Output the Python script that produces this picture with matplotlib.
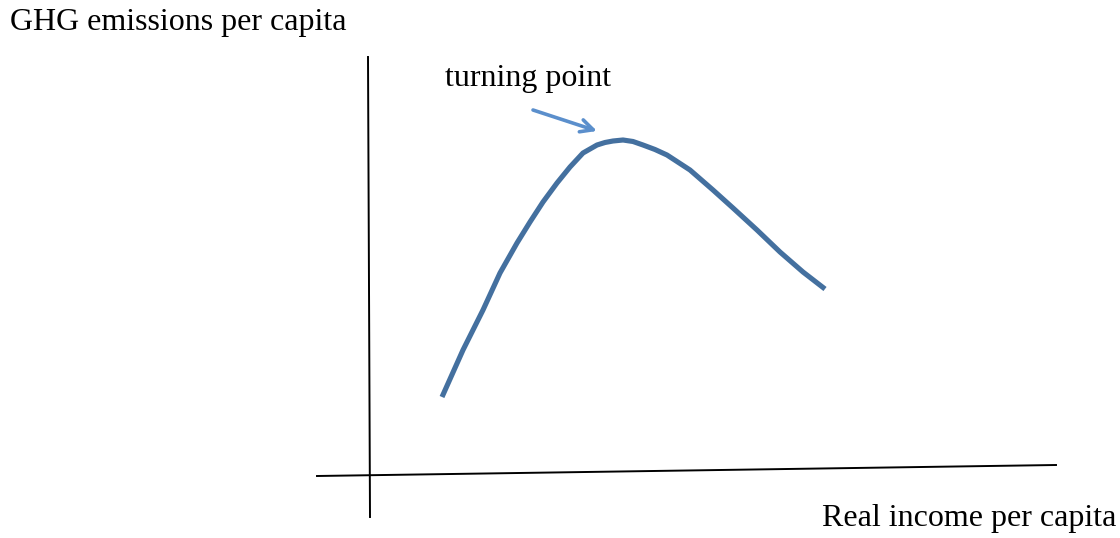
"""Environmental Kuznets curve sketch: GHG emissions vs real income per capita."""

import matplotlib.pyplot as plt

# Curve (origin at the axes crossing, pixel-ish units)
income = [72, 93, 113, 130, 147, 160, 173, 187, 200, 213, 220, 227, 235,
          243, 253, 263, 273, 285, 297, 320, 343, 363, 387, 410, 433, 455]
emissions = [76, 123, 163, 200, 230, 251, 271, 290, 306, 320, 324, 328,
             330.5, 332, 333, 331.5, 328, 323.5, 318, 303, 283, 265, 243,
             221, 201, 184]

# Hand-drawn axes, slightly off square
y_axis_x = [-2, 0]
y_axis_y = [416, -44]
x_axis_x = [-53, 686]
x_axis_y = [-3, 8]

# Annotation arrow, tail -> head
arrow_tail = (163, 363)
arrow_head = (227, 342)

plt.rcParams['font.family'] = ['Liberation Serif', 'DejaVu Serif']

fig = plt.figure(figsize=(11.2, 5.38), dpi=100)
ax = fig.add_axes([0, 0, 1, 1])
ax.set_xlim(-370, 750)
ax.set_ylim(-65, 473)
ax.axis('off')

ax.plot(y_axis_x, y_axis_y, color='black', linewidth=1.4)
ax.plot(x_axis_x, x_axis_y, color='black', linewidth=1.4)

ax.plot(income, emissions, color='#44709f', linewidth=3.7,
        solid_capstyle='butt', solid_joinstyle='round', antialiased=True)

ax.annotate('', xy=arrow_head, xytext=arrow_tail,
            arrowprops=dict(arrowstyle='->,head_length=0.9,head_width=0.45',
                            color='#5b8fcc', lw=2.6, shrinkA=0, shrinkB=0,
                            joinstyle='round', capstyle='round'))

ax.text(-360, 443, 'GHG emissions per capita', fontsize=23, va='baseline')
ax.text(75, 387, 'turning point', fontsize=23, va='baseline')
ax.text(452, -53, 'Real income per capita', fontsize=23, va='baseline')

plt.savefig('out.png', dpi=100)
